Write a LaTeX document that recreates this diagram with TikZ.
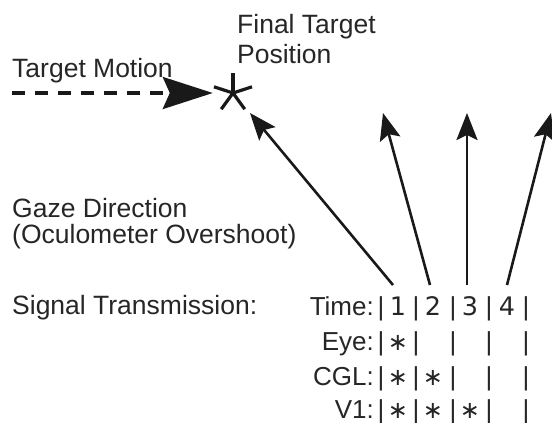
\documentclass[tikz,border=0pt]{standalone}
\usepackage{fontspec}
\setmainfont{Liberation Sans}
\newfontfamily\dvs{DejaVu Sans}
\usetikzlibrary{arrows.meta}
\begin{document}
\begin{tikzpicture}[x=1pt,y=-1pt,
  lbl/.style={inner sep=0pt, font=\fontsize{26.5}{30}\selectfont, text=black!85},
  cell/.style={inner sep=0pt, font=\fontsize{26}{30}\selectfont, text=black!85, anchor=base},
  digit/.style={inner sep=0pt, font=\dvs\fontsize{25.5}{30}\selectfont, text=black!85, anchor=base},
  starc/.style={inner sep=0pt, text depth=0pt, font=\dvs\fontsize{24}{30}\selectfont, text=black!85, anchor=base},
  ray/.style={draw=black!90, line width=2.6pt, -{Stealth[length=27pt,width=21pt,inset=5pt]}},
  arm/.style={draw=black!90, line width=3.2pt},
]
\useasboundingbox (0,0) rectangle (552,423);
\clip (0,0) rectangle (552,423);

% labels
\node[lbl, anchor=base west] (tm) at (12,77) {Target Motion};
\node[lbl, anchor=base west] (ft) at (237,33) {Final Target};
\node[lbl, anchor=base west] (pos) at (237,63) {Position};
\node[lbl, anchor=base west] (gd) at (12,217) {Gaze Direction};
\node[lbl, anchor=base west] (oo) at (12,243) {(Oculometer Overshoot)};
\node[lbl, anchor=base west] (st) at (12,314) {Signal Transmission:};

% asterisk (final target)
\node[circle, minimum size=40pt, inner sep=0pt] (star) at (233,93) {};
\foreach \a in {-90,-162,-18,-234,-306} {
  \draw[arm] (star.center) -- ++(\a:20);
}

% target motion
\coordinate (ds) at (12,93);
\draw[draw=black!90, line width=3.5pt, dash pattern=on 13pt off 10pt,
  -{Stealth[length=50pt,width=32pt,inset=7pt]}] (ds) -- (star.west);

% row labels
\node[cell, anchor=base east] (rtime) at (374,315) {Time:};
\node[cell, anchor=base east] (reye) at (374,350) {Eye:};
\node[cell, anchor=base east] (rcgl) at (374,385) {CGL:};
\node[cell, anchor=base east] (rv1) at (374,418) {V1:};

% bars
\foreach \r/\y in {time/315,eye/350,cgl/385,v1/418} {
  \foreach \i/\x in {0/381,1/416,2/453,3/489,4/526} {
    \node[cell] (bar-\r-\i) at (\x,\y) {|};
  }
}

% digits
\node[digit] (d1) at (398,315) {1};
\node[digit] (d2) at (433,315) {2};
\node[digit] (d3) at (470,315) {3};
\node[digit] (d4) at (507,315) {4};

% stars
\node[starc] (e1) at (398,350) {∗};
\node[starc] (c1) at (398,385) {∗};
\node[starc] (c2) at (433,385) {∗};
\node[starc] (v1) at (398,418) {∗};
\node[starc] (v2) at (433,418) {∗};
\node[starc] (v3) at (470,418) {∗};

% gaze arrows
\coordinate (b1) at (393,285);
\coordinate (b2) at (430,285);
\coordinate (b3) at (467,285);
\coordinate (b4) at (507,285);
\coordinate (t1) at (250,113);
\coordinate (t2) at (383,113);
\coordinate (t3) at (467,113);
\coordinate (t4) at (551,113);
\draw[ray] (b1) -- (t1);
\draw[ray] (b2) -- (t2);
\draw[ray] (b3) -- (t3);
\draw[ray] (b4) -- (t4);
\end{tikzpicture}
\end{document}
